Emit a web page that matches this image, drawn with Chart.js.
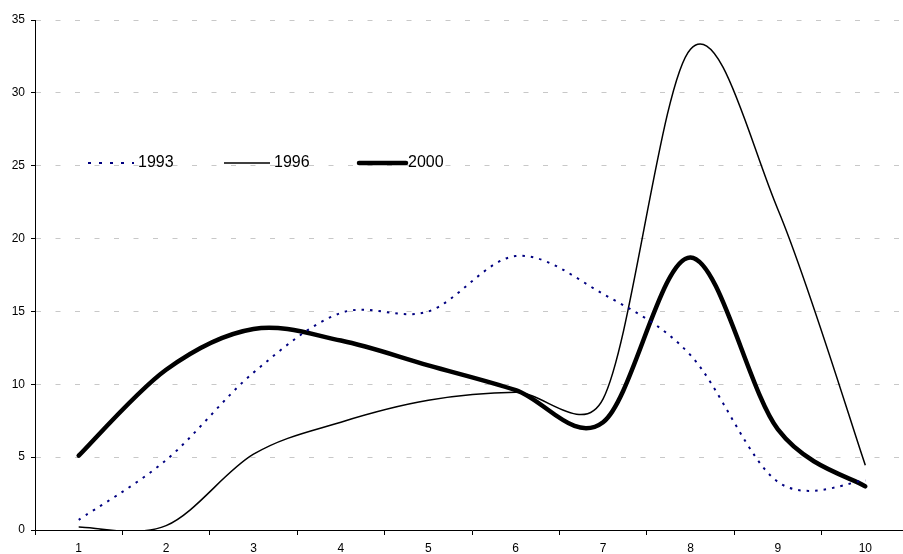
<!DOCTYPE html>
<html>
<head>
<meta charset="utf-8">
<script src="https://cdn.jsdelivr.net/npm/chart.js@4"></script>
<style>
    html, body { margin: 0; padding: 0; background: #fff; overflow: hidden; }
    #wrap { width: 903px; height: 554px; overflow: hidden; }
</style>
</head>
<body>
<div id="wrap"><canvas id="chart" width="909" height="554" style="width:909px;height:554px"></canvas></div>
<script>
// ---------- Data ----------
const categories = ["1", "2", "3", "4", "5", "6", "7", "8", "9", "10"];
const series1993 = [0.7, 4.8, 10.8, 14.9, 15.0, 18.8, 16.2, 12.0, 3.3, 3.4];
const series1996 = [0.2, 0.3, 5.2, 7.4, 8.9, 9.45, 9.0, 33.0, 22.0, 4.45];
const series2000 = [5.1, 11.0, 13.8, 13.0, 11.3, 9.6, 7.4, 18.7, 6.9, 3.0];
const yTicks = [0, 5, 10, 15, 20, 25, 30, 35];

const font = "'Liberation Sans', Arial, sans-serif";

// ---------- Excel-like smoothing: Catmull-Rom 1/6, capped at half the segment ----------
const smoothLines = {
    id: 'smoothLines',
    beforeDatasetsDraw(chart) {
        chart.data.datasets.forEach((ds, i) => {
            const meta = chart.getDatasetMeta(i);
            const pts = meta.data;
            const n = pts.length;
            for (let j = 0; j < n; j++) {
                const p = pts[j];
                const prev = pts[j - 1] || p;
                const next = pts[j + 1] || p;
                const tx = next.x - prev.x, ty = next.y - prev.y;
                const chord = Math.hypot(tx, ty) || 1;
                const dPrev = Math.hypot(p.x - prev.x, p.y - prev.y);
                const dNext = Math.hypot(next.x - p.x, next.y - p.y);
                const lenL = Math.min(chord / 6, dPrev / 2);
                const lenR = Math.min(chord / 6, dNext / 2);
                p.cp1x = p.x - tx / chord * lenL;
                p.cp1y = p.y - ty / chord * lenL;
                p.cp2x = p.x + tx / chord * lenR;
                p.cp2y = p.y + ty / chord * lenR;
            }
            meta.dataset._pointsUpdated = true;
        });
    }
};

// ---------- Legend drawn inside the plot ----------
const legendSpots = [
    { x1: 88, x2: 134, tx: 138, dash: [3, 8] },
    { x1: 224, x2: 270, tx: 274, dash: [] },
    { x1: 359, x2: 406, tx: 408, dash: [] }
];
const innerLegend = {
    id: 'innerLegend',
    afterDatasetsDraw(chart) {
        const ctx = chart.ctx;
        const y = 163;
        chart.data.datasets.forEach((ds, i) => {
            const s = legendSpots[i];
            ctx.save();
            ctx.strokeStyle = ds.borderColor;
            ctx.lineWidth = ds.borderWidth;
            ctx.lineCap = i === 2 ? 'round' : 'butt';
            ctx.setLineDash(s.dash);
            ctx.beginPath();
            ctx.moveTo(s.x1, y);
            ctx.lineTo(s.x2, y);
            ctx.stroke();
            ctx.setLineDash([]);
            ctx.fillStyle = '#000';
            ctx.font = '16px ' + font;
            ctx.textBaseline = 'middle';
            ctx.textAlign = 'left';
            ctx.fillText(ds.label, s.tx, y);
            ctx.restore();
        });
    }
};

new Chart(document.getElementById('chart'), {
    type: 'line',
    data: {
        labels: categories,
        datasets: [
            { label: '1993', data: series1993, borderColor: '#000080', borderWidth: 2, borderDash: [2.5, 6], tension: 0.35, pointRadius: 0 },
            { label: '1996', data: series1996, borderColor: '#000', borderWidth: 1.5, tension: 0.35, pointRadius: 0 },
            { label: '2000', data: series2000, borderColor: '#000', borderWidth: 4.5, borderCapStyle: 'round', tension: 0.35, pointRadius: 0 }
        ]
    },
    options: {
        responsive: false,
        animation: false,
        devicePixelRatio: 1,
        layout: { padding: { top: 20, left: 0, right: 0, bottom: 0 } },
        plugins: { legend: { display: false }, tooltip: { enabled: false } },
        scales: {
            x: {
                offset: true,
                grid: { offset: true, drawOnChartArea: false, drawTicks: true, tickLength: 5, tickColor: '#000', tickWidth: 1 },
                border: { display: true, color: '#000', width: 1 },
                ticks: { color: '#000', font: { family: font, size: 12 }, padding: 6, maxRotation: 0 },
                afterFit(scale) { scale.height = 24; }
            },
            y: {
                min: 0, max: 35,
                afterBuildTicks(scale) { scale.ticks = yTicks.map(v => ({ value: v })); },
                grid: { color: '#c8c8c8', lineWidth: 1, drawTicks: true, tickLength: 4, tickColor: '#000', tickBorderDash: [] },
                border: { display: true, color: '#000', width: 1, dash: [5, 14.5] },
                ticks: { color: '#000', font: { family: font, size: 12 }, padding: 6 },
                afterFit(scale) { scale.width = 35; }
            }
        }
    },
    plugins: [smoothLines, innerLegend]
});
</script>
</body>
</html>
